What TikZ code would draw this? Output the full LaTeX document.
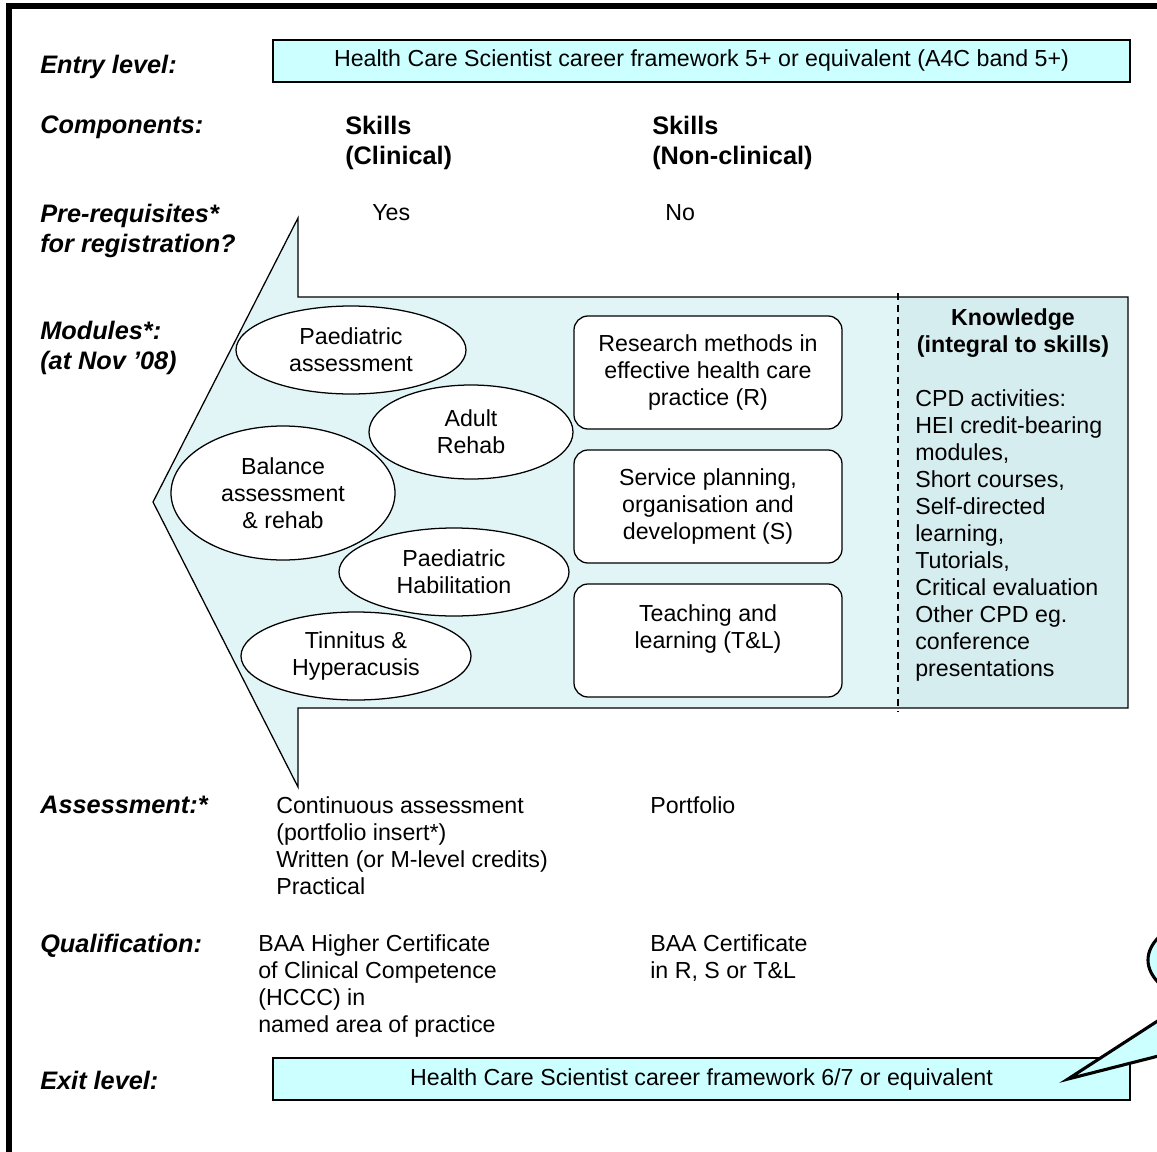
\documentclass[tikz,border=0pt]{standalone}
\usepackage{fontspec}
\setmainfont{Liberation Sans}
\usetikzlibrary{shapes.geometric}
\definecolor{boxcyan}{HTML}{CCFFFF}
\definecolor{arrowcyan}{HTML}{E1F4F6}
\definecolor{knowcyan}{HTML}{D6EDEF}

\begin{document}
\begin{tikzpicture}[x=0.25mm,y=-0.25mm,
  every node/.style={inner sep=0pt,font=\fontsize{16.5}{19.2}\selectfont},
  rowlabel/.style={anchor=north west,align=left,font=\fontsize{18}{21.3}\selectfont\bfseries\itshape},
  colhead/.style={anchor=north west,align=left,font=\fontsize{18}{21.3}\selectfont\bfseries},
  txt/.style={anchor=north west,align=left},
  levelbox/.style={draw,fill=boxcyan,line width=0.8pt,minimum width=214.25mm,minimum height=10.5mm},
  module/.style={draw,fill=white,ellipse,line width=0.9pt,align=center},
  modbox/.style={draw,fill=white,rounded corners=10pt,line width=0.9pt,align=center,minimum width=67mm,minimum height=28.25mm}]
\useasboundingbox (0,0) rectangle (1157,1151);
\clip (0,0) rectangle (1157,1151);

% frame
\path[draw,line width=3.6pt] (9,6) rectangle (1300,1300);

% big arrow
\path[fill=arrowcyan] (298,218) -- (153,502) -- (298,787) -- (298,708) -- (1128,708) -- (1128,297) -- (298,297) -- cycle;
\path[fill=knowcyan] (898,297) rectangle (1128,708);
\path[draw,line width=0.9pt] (298,218) -- (153,502) -- (298,787) -- (298,708) -- (1128,708) -- (1128,297) -- (298,297) -- cycle;
\path[draw,line width=0.8pt,dash pattern=on 5pt off 3.5pt] (898,293) -- (898,712);

% rows
\node[rowlabel] (entrylbl) at (40,55) {Entry level:};
\node[levelbox] (entry) at (701.5,61) {Health Care Scientist career framework 5+ or equivalent (A4C band 5+)};

\node[rowlabel] (complbl) at (40,116) {Components:};
\node[colhead] (clin) at (345,116) {Skills\\(Clinical)};
\node[colhead] (nonclin) at (652,116) {Skills\\(Non-clinical)};

\node[rowlabel] (prereqlbl) at (40,204) {Pre-requisites*\\for registration?};
\node[txt] (yes) at (372,204) {Yes};
\node[txt] (no) at (665,204) {No};

\node[rowlabel] (modlbl) at (40,321) {Modules*:\\(at Nov ’08)};

% clinical modules
\node[module,minimum width=57.5mm,minimum height=22mm] (paedassess) at (351,350) {Paediatric\\assessment};
\node[module,minimum width=51mm,minimum height=23.5mm] (adultrehab) at (471,432) {Adult\\Rehab};
\node[module,minimum width=56mm,minimum height=33.5mm] (balance) at (283,493) {Balance\\assessment\\\& rehab};
\node[module,minimum width=57.5mm,minimum height=22mm] (paedhab) at (454,572) {Paediatric\\Habilitation};
\node[module,minimum width=57.5mm,minimum height=22mm] (tinnitus) at (356,656) {Tinnitus \&\\Hyperacusis};

% non-clinical modules
\node[modbox] (research) at (708,372.5) {Research methods in\\effective health care\\practice (R)};
\node[modbox] (service) at (708,506.5) {Service planning,\\organisation and\\development (S)};
\node[modbox] (teaching) at (708,640.5) {Teaching and\\learning (T\&L)\\~};

% knowledge
\node[align=center,font=\fontsize{16.5}{19.2}\selectfont\bfseries] (knowhead) at (1013,333) {Knowledge\\(integral to skills)};
\node[txt] (cpd) at (915,389) {CPD activities:\\HEI credit-bearing\\modules,\\Short courses,\\Self-directed\\learning,\\Tutorials,\\Critical evaluation\\Other CPD eg.\\conference\\presentations};

\node[rowlabel] (assesslbl) at (40,796) {Assessment:*};
\node[txt] (assesstxt) at (276,796) {Continuous assessment\\(portfolio insert*)\\Written (or M-level credits)\\Practical};
\node[txt] (portfolio) at (650,796) {Portfolio};

\node[rowlabel] (quallbl) at (40,934) {Qualification:};
\node[txt] (hccc) at (258,934) {BAA Higher Certificate\\of Clinical Competence\\(HCCC) in\\named area of practice};
\node[txt] (baacert) at (650,934) {BAA Certificate\\in R, S or T\&L};

\node[rowlabel] (exitlbl) at (40,1071) {Exit level:};
\node[levelbox] (exit) at (701.5,1079) {Health Care Scientist career framework 6/7 or equivalent};

% callout
\coordinate (tip) at (1068,1079);
\path[draw,fill=boxcyan,line width=2.2pt] (1290,960) ellipse [x radius=35.5mm, y radius=15mm];
\path[fill=boxcyan] (1190,998) -- (tip) -- (1300,1016) -- cycle;
\path[draw,line width=2.2pt] (1190,1000) -- (tip) -- (1300,1020);
\end{tikzpicture}
\end{document}
